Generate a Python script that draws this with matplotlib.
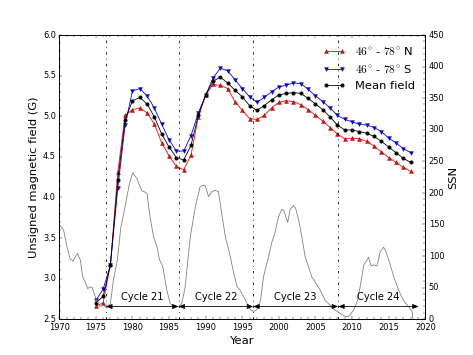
import numpy as np
import matplotlib
matplotlib.use('Agg')
import matplotlib.pyplot as plt
from matplotlib.ticker import MultipleLocator

# yearly polar field values (G)
years = np.arange(1975, 2019)
north = [2.66, 2.70, 3.18, 4.31, 5.01, 5.08, 5.10, 5.04, 4.90, 4.67,
         4.51, 4.38, 4.34, 4.52, 4.99, 5.26, 5.39, 5.38, 5.34, 5.18,
         5.07, 4.97, 4.96, 5.01, 5.10, 5.17, 5.19, 5.18, 5.14, 5.08,
         5.01, 4.94, 4.86, 4.78, 4.72, 4.73, 4.72, 4.69, 4.63, 4.56,
         4.49, 4.43, 4.37, 4.32]
south = [2.73, 2.87, 3.17, 4.11, 4.89, 5.31, 5.34, 5.25, 5.10, 4.90,
         4.71, 4.57, 4.57, 4.76, 5.04, 5.26, 5.47, 5.59, 5.56, 5.45,
         5.34, 5.24, 5.17, 5.23, 5.30, 5.36, 5.38, 5.41, 5.40, 5.33,
         5.25, 5.18, 5.10, 5.01, 4.96, 4.93, 4.90, 4.89, 4.86, 4.81,
         4.73, 4.67, 4.60, 4.55]
mean = [2.70, 2.78, 3.17, 4.21, 4.95, 5.19, 5.23, 5.15, 4.99, 4.78,
        4.62, 4.49, 4.46, 4.64, 5.01, 5.26, 5.43, 5.48, 5.41, 5.32,
        5.24, 5.13, 5.07, 5.13, 5.20, 5.26, 5.28, 5.29, 5.28, 5.22,
        5.15, 5.08, 4.99, 4.89, 4.83, 4.83, 4.81, 4.79, 4.75, 4.69,
        4.62, 4.55, 4.48, 4.43]

# smoothed sunspot number
ssn_t = [1970.0, 1970.6, 1971.05, 1971.5, 1971.9, 1972.3, 1972.5, 1972.9, 1973.2, 1973.55,
         1973.9, 1974.15, 1974.5, 1974.8, 1975.15, 1975.6, 1976.05, 1976.5, 1977.0, 1977.4,
         1977.95, 1978.4, 1979.0, 1979.6, 1980.05, 1980.25, 1980.6, 1980.97, 1981.3, 1981.6,
         1982.0, 1982.4, 1982.9, 1983.35, 1983.7, 1984.15, 1984.7, 1985.15, 1985.6, 1986.3,
         1986.75, 1987.2, 1987.9, 1988.6, 1989.25, 1989.7, 1989.95, 1990.4, 1990.85, 1991.3,
         1991.75, 1992.2, 1992.7, 1993.35, 1993.8, 1994.3, 1994.7, 1995.2, 1995.65, 1996.1,
         1996.55, 1997.0, 1997.5, 1997.9, 1998.6, 1999.05, 1999.5, 1999.95, 2000.4, 2000.7,
         2001.2, 2001.55, 2002.0, 2002.3, 2002.7, 2003.15, 2003.6, 2004.05, 2004.5, 2005.2,
         2005.65, 2006.3, 2007.0, 2007.7, 2008.4, 2009.1, 2009.5, 2010.2, 2010.7, 2011.1,
         2011.6, 2011.9, 2012.25, 2012.6, 2012.95, 2013.4, 2013.85, 2014.3, 2014.55, 2015.0,
         2015.7, 2016.35, 2017.0, 2017.7, 2018.2, 2018.3]
ssn = [150, 141, 115, 95, 92, 101, 104, 93, 67, 59,
       48, 51, 50, 40, 28, 20, 22, 18, 25, 62,
       94, 144, 178, 215, 232, 228, 223, 212, 203, 202,
       199, 162, 130, 115, 94, 83, 46, 25, 20, 20,
       25, 51, 130, 178, 210, 212, 211, 194, 202, 204,
       202, 167, 130, 100, 75, 51, 46, 35, 25, 15,
       12, 15, 30, 67, 99, 122, 138, 162, 174, 172,
       153, 174, 180, 175, 157, 130, 98, 83, 67, 54,
       46, 30, 22, 14, 9, 4, 4, 14, 28, 51,
       86, 91, 98, 84, 86, 84, 107, 114, 109, 94,
       67, 46, 30, 20, 12, 1]

# cycle boundaries
cycle_edges = [1976.4, 1986.3, 1996.5, 2008.1, 2019.1]
cycle_names = ['Cycle 21', 'Cycle 22', 'Cycle 23', 'Cycle 24']

plt.style.use('classic')
plt.rcParams['xtick.labelsize'] = 10
plt.rcParams['ytick.labelsize'] = 10
plt.rcParams['axes.formatter.useoffset'] = False

fig, ax = plt.subplots(figsize=(8, 6), dpi=59.2)
fig.subplots_adjust(left=0.125, right=0.898, bottom=0.101, top=0.901)

ax.plot(years, north, 'r-^', ms=5, mew=0.3, label=r'$46^{\circ}$ - $78^{\circ}$ N')
ax.plot(years, south, 'b-v', ms=5, mew=0.3, label=r'$46^{\circ}$ - $78^{\circ}$ S')
ax.plot(years, mean, 'k-o', ms=4.5, mew=0.3, label='Mean field')

for xe in cycle_edges[:-1]:
    ax.axvline(xe, color='k', ls='-.', lw=1)

ax.set_xlim(1970, 2020)
ax.set_ylim(2.5, 6.0)
ax.xaxis.set_major_locator(MultipleLocator(5))
ax.xaxis.set_minor_locator(MultipleLocator(1))
ax.yaxis.set_major_locator(MultipleLocator(0.5))
ax.yaxis.set_minor_locator(MultipleLocator(0.1))
ax.set_xlabel('Year', fontsize=14)
ax.set_ylabel('Unsigned magnetic field (G)', fontsize=14)
ax.legend(loc='upper right', frameon=False, fontsize=14, numpoints=2)

ax2 = ax.twinx()
ax2.plot(ssn_t, ssn, color='0.5', lw=1)
for i, name in enumerate(cycle_names):
    a, b = cycle_edges[i], cycle_edges[i + 1]
    ax2.annotate('', xy=(b, 20), xytext=(a, 20),
                 arrowprops=dict(arrowstyle='<|-|>,head_length=0.5,head_width=0.2',
                                 color='k', lw=1, shrinkA=0, shrinkB=0))
    ax2.text((a + b) / 2, 35, name, ha='center', va='center', fontsize=12)
ax2.set_xlim(1970, 2020)
ax2.set_ylim(0, 450)
ax2.yaxis.set_major_locator(MultipleLocator(50))
ax2.yaxis.set_minor_locator(MultipleLocator(10))
ax2.set_ylabel('SSN', fontsize=14)

fig.savefig('out.png', dpi=59.2)
